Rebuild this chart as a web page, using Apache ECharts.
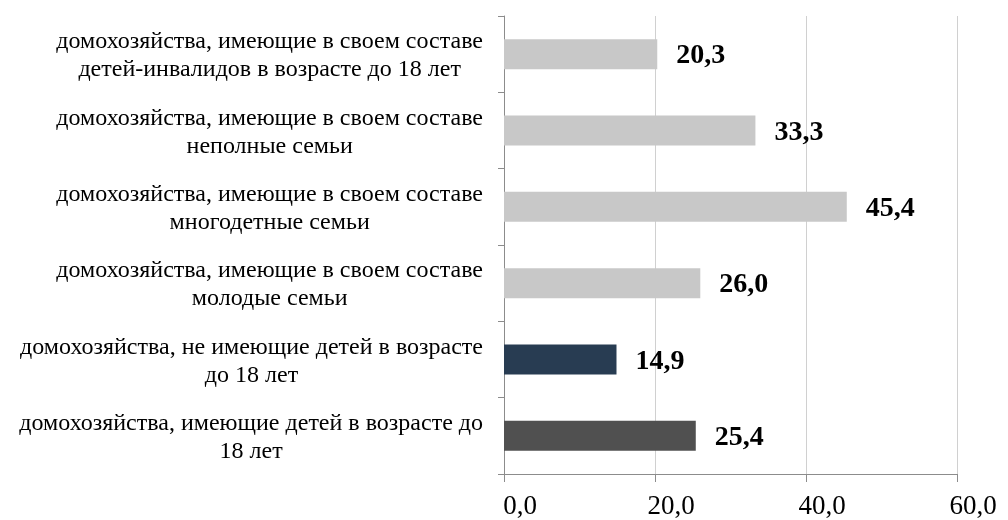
<!DOCTYPE html>
<html>
<head>
<meta charset="utf-8">
<script src="https://cdn.jsdelivr.net/npm/echarts@6/dist/echarts.min.js"></script>
<style>
  html, body { margin: 0; padding: 0; background: #fff; }
  #chart { width: 1008px; height: 520px; }
</style>
</head>
<body>
<div id="chart"></div>
<script>
// categories top -> bottom
var categories = [
  'домохозяйства, имеющие в своем составе\nдетей-инвалидов в возрасте до 18 лет',
  'домохозяйства, имеющие в своем составе\nнеполные семьи',
  'домохозяйства, имеющие в своем составе\nмногодетные семьи',
  'домохозяйства, имеющие в своем составе\nмолодые семьи',
  'домохозяйства, не имеющие детей в возрасте\nдо 18 лет',
  'домохозяйства, имеющие детей в возрасте до\n18 лет'
]
var values = [20.3, 33.3, 45.4, 26.0, 14.9, 25.4]
var barColors = ['#c8c8c8', '#c8c8c8', '#c8c8c8', '#c8c8c8', '#283c52', '#505050']
var xTicks = [0, 20, 40, 60]

var fmt = function (v) {
  return v.toFixed(1).replace('.', ',')
}

var chart = echarts.init(document.getElementById('chart'))
chart.setOption({
  backgroundColor: '#ffffff',
  animation: false,
  grid: {
    left: 504,
    right: 51,
    top: 16,
    bottom: 46
  },
  xAxis: {
    type: 'value',
    min: xTicks[0],
    max: xTicks[xTicks.length - 1],
    interval: 20,
    axisLine: { show: true, lineStyle: { color: '#8c8c8c', width: 1 } },
    axisTick: { show: true, length: 8, lineStyle: { color: '#8c8c8c' } },
    axisLabel: {
      margin: 19,
      padding: [0, 0, 0, 32],
      fontFamily: 'Liberation Serif',
      fontSize: 27,
      color: '#000',
      formatter: fmt
    },
    splitLine: { show: true, lineStyle: { color: '#d0d0d0', width: 1 } }
  },
  yAxis: {
    type: 'category',
    inverse: true,
    data: categories,
    axisLine: { show: true, lineStyle: { color: '#8c8c8c', width: 1 } },
    axisTick: { show: true, length: 6, lineStyle: { color: '#8c8c8c' } },
    axisLabel: {
      margin: 21,
      align: 'right',
      padding: [4, 0, 0, 0],
      formatter: function (v) {
        return v.split('\n').map(function (s) { return '{c|' + s + '}' }).join('\n')
      },
      rich: {
        c: {
          fontFamily: 'Liberation Serif',
          fontSize: 24,
          lineHeight: 28,
          color: '#000',
          align: 'center'
        }
      }
    }
  },
  series: [{
    type: 'bar',
    barWidth: 30,
    data: values.map(function (v, i) {
      return { value: v, itemStyle: { color: barColors[i] } }
    }),
    label: {
      show: true,
      position: 'right',
      distance: 19,
      offset: [0, 2],
      fontFamily: 'Liberation Serif',
      fontWeight: 'bold',
      fontSize: 28,
      color: '#000',
      formatter: function (p) { return fmt(p.value) }
    }
  }]
})
</script>
</body>
</html>
